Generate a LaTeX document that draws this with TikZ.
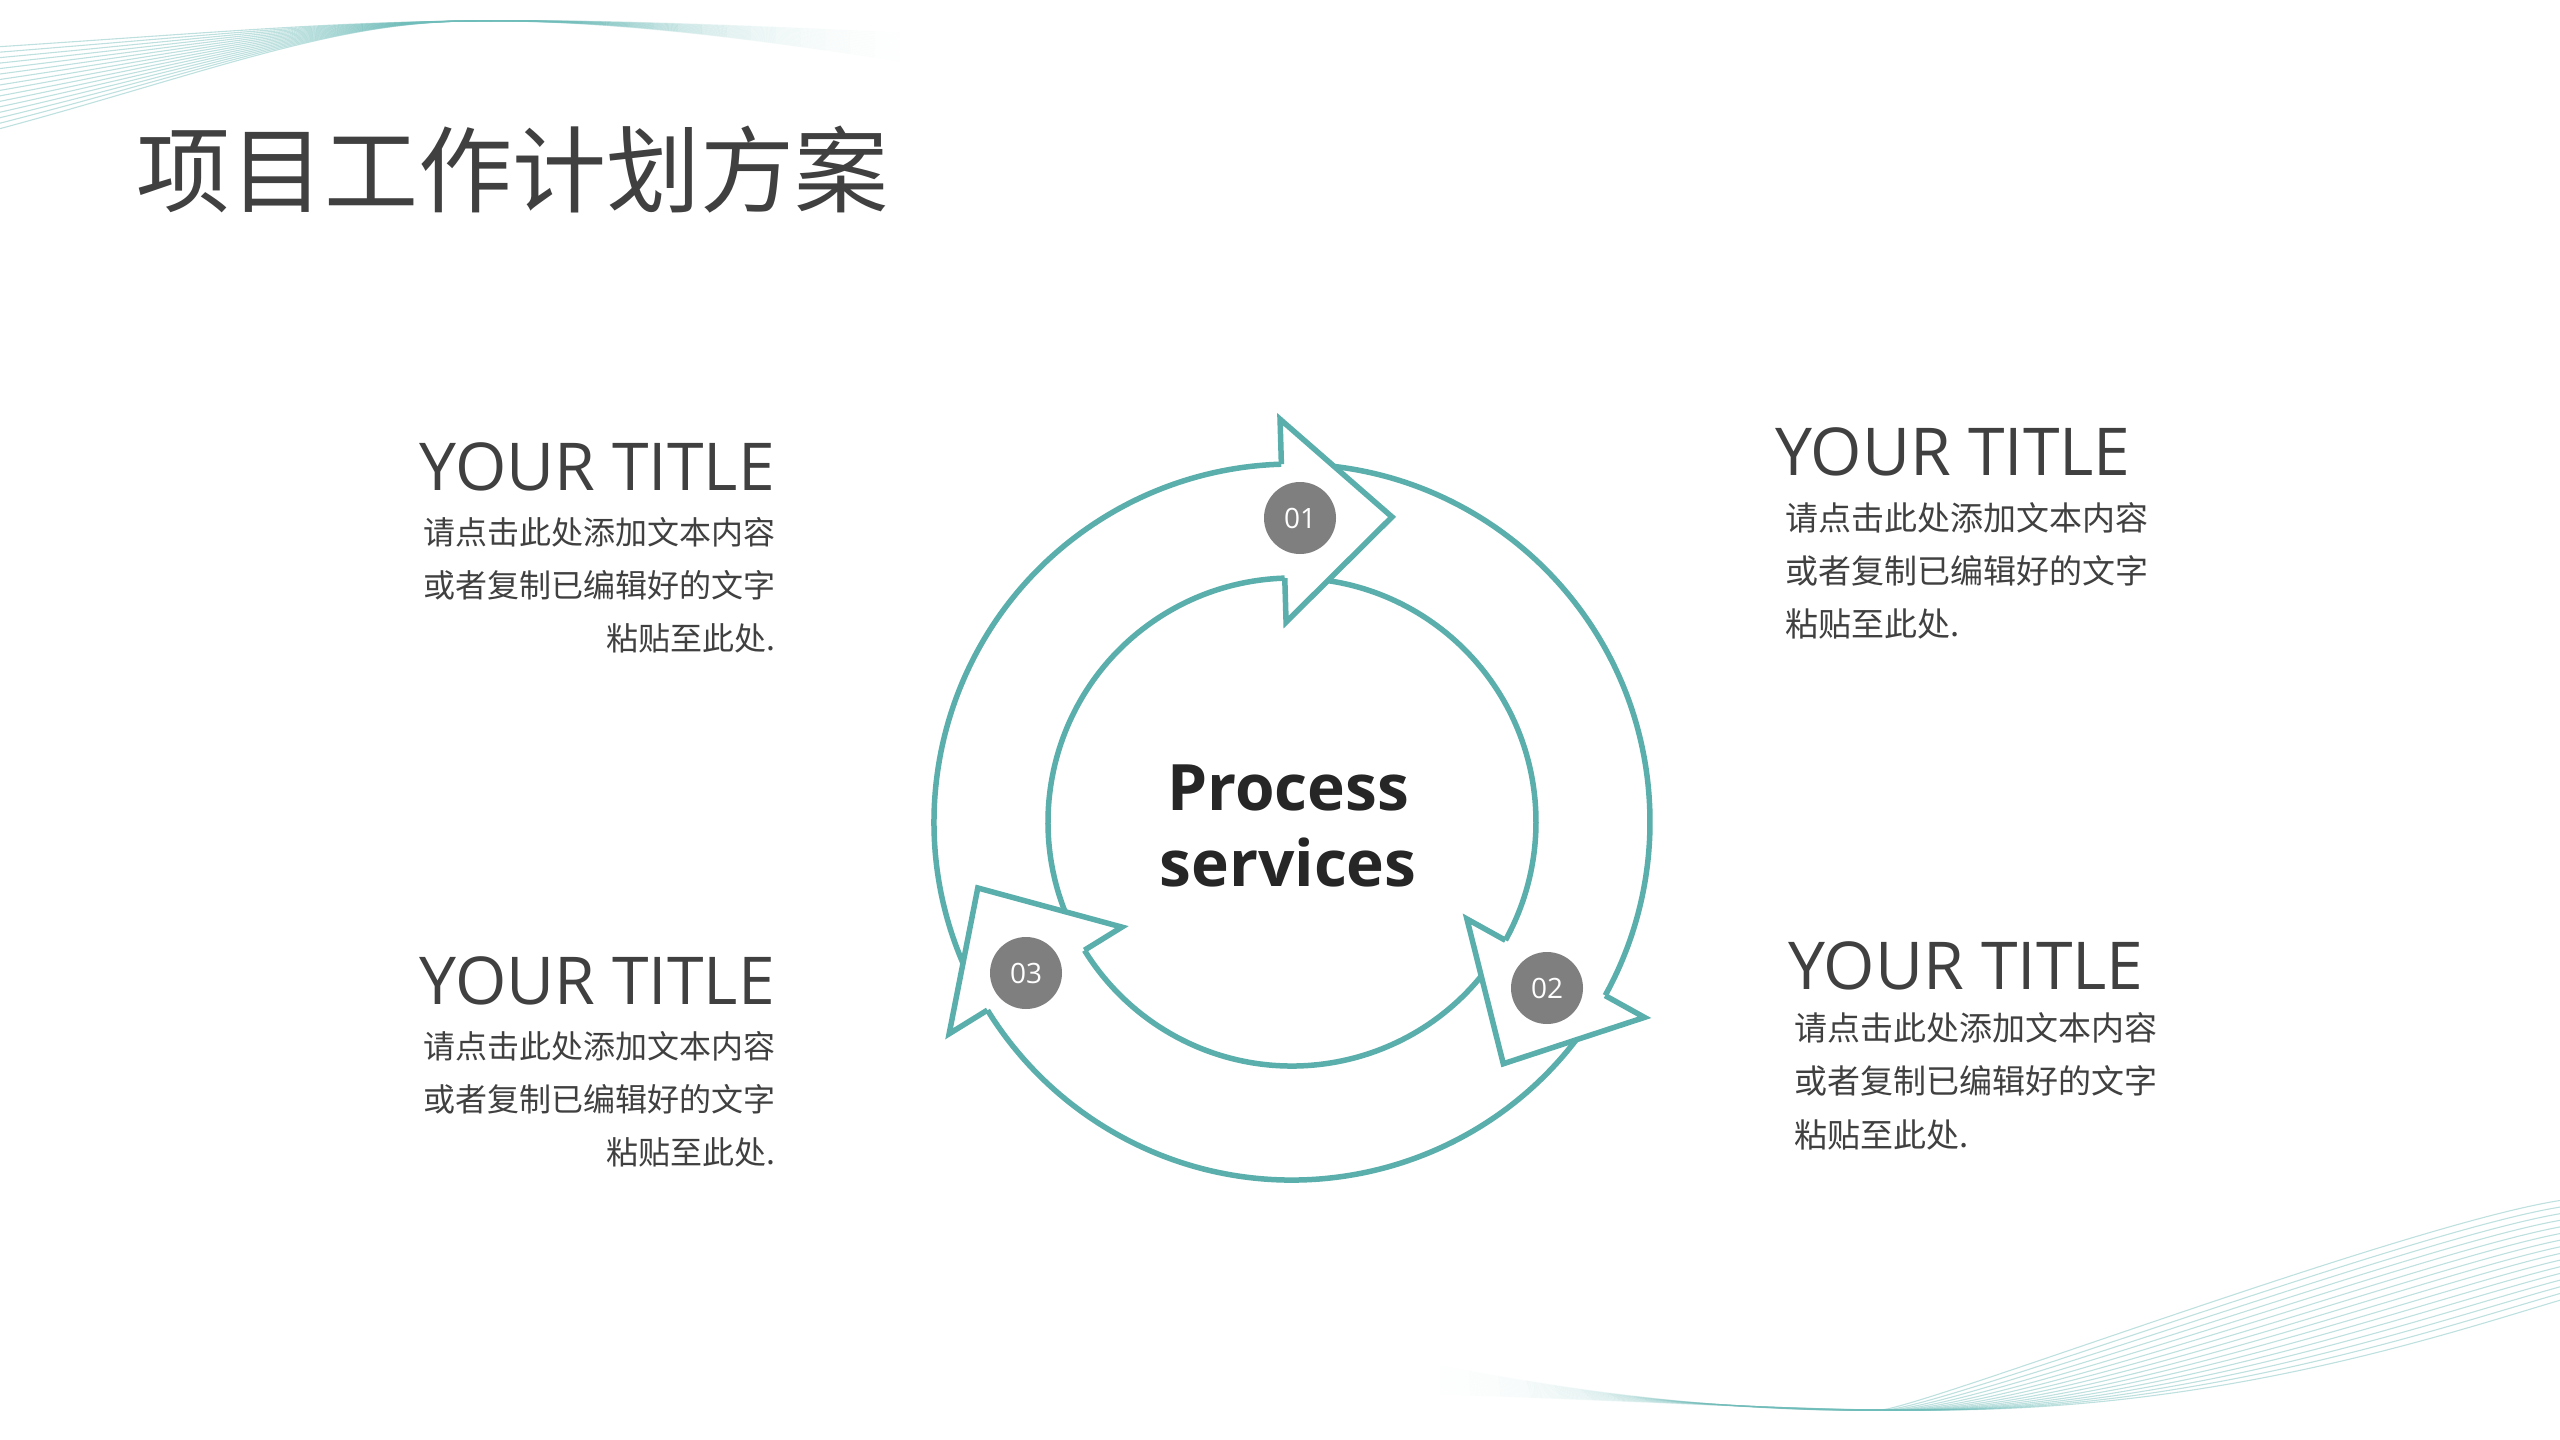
\documentclass[tikz,border=0pt]{standalone}
\usepackage{fontspec}
\setmainfont{Open Sans}
\newfontfamily\cjk{Noto Sans CJK SC}
\usetikzlibrary{calc}
\definecolor{tealc}{HTML}{5AAFAC}
\definecolor{wavec}{HTML}{6FBDBA}
\definecolor{numgray}{HTML}{7F7F7F}
\definecolor{txtc}{HTML}{404040}
\definecolor{darkc}{HTML}{262626}
% fading cubic curve: x0 y0 x1 y1 x2 y2 x3 y3 (screen y, downwards), opacity from 0.45 to 0
\newcommand\fadecurve[8]{%
  \foreach \k in {1,...,18} {
    \pgfmathsetmacro\sa{(\k-1)/18}
    \pgfmathsetmacro\sb{\k/18}
    \pgfmathsetmacro\xa{(1-\sa)^3*#1+3*(1-\sa)^2*\sa*#3+3*(1-\sa)*\sa^2*#5+\sa^3*#7}
    \pgfmathsetmacro\ya{(1-\sa)^3*#2+3*(1-\sa)^2*\sa*#4+3*(1-\sa)*\sa^2*#6+\sa^3*#8}
    \pgfmathsetmacro\xb{(1-\sb)^3*#1+3*(1-\sb)^2*\sb*#3+3*(1-\sb)*\sb^2*#5+\sb^3*#7}
    \pgfmathsetmacro\yb{(1-\sb)^3*#2+3*(1-\sb)^2*\sb*#4+3*(1-\sb)*\sb^2*#6+\sb^3*#8}
    \pgfmathsetmacro\op{0.45*(1-\sa)*(1-0.5*\sa)}
    \draw[wfade, opacity=\op] (\xa,-\ya) -- (\xb,-\yb);
  }%
}
\begin{document}
\begin{tikzpicture}[x=1pt,y=1pt,
  ringarc/.style={draw=tealc, line width=5.5pt},
  numc/.style={circle, fill=numgray, minimum size=72pt, inner sep=0pt, text=white, font=\fontsize{28}{30}\selectfont},
  ttl/.style={inner sep=0pt, text=txtc, font=\fontsize{66}{70}\selectfont},
  bodyL/.style={inner sep=0pt, text=txtc, font=\cjk\fontsize{32}{36}\selectfont},
  bodyR/.style={inner sep=0pt, text=txtc, font=\cjk\fontsize{33}{36}\selectfont},
  proc/.style={inner sep=0pt, text=darkc, font=\bfseries\fontsize{64}{70}\selectfont},
  wline/.style={draw=wavec, line width=1.1pt, opacity=0.45},
  wfade/.style={draw=wavec, line width=1.1pt},
]
\fill[white] (0,0) rectangle (2560,-1440);
\useasboundingbox (0,0) rectangle (2560,-1440);

% decorative waves
\begin{scope}
\clip (0,0) rectangle (2560,-1440);
\foreach \i in {0,...,15} {
  \pgfmathsetmacro\t{\i/15}
  % top left
  \pgfmathsetmacro\yA{47+83*\t}
  \pgfmathsetmacro\yC{0.5*\yA+10}
  \pgfmathsetmacro\yE{33+28*\t}
  \pgfmathsetmacro\yF{26+12*\t}
  \draw[wline] (-5,-\yA) .. controls (200,-\yC) and (330,-22) .. (470,-21);
  \fadecurve{470}{21}{600}{19}{750}{\yF}{900}{\yE}
  % bottom right
  \pgfmathsetmacro\ry{1198+95*\t}
  \pgfmathsetmacro\cxa{2470+10*\t}
  \pgfmathsetmacro\cya{1200+122*\t}
  \pgfmathsetmacro\cxb{1921+324*\t}
  \pgfmathsetmacro\qx{1880+60*\t}
  \pgfmathsetmacro\qc{1760+60*\t}
  \pgfmathsetmacro\ly{1366+28*\t}
  \draw[wline] (2585,-\ry) .. controls (\cxa,-\cya) and (\cxb,-1409) .. (\qx,-1410);
  \fadecurve{\qx}{1410}{\qc}{1412}{1620}{1400}{1440}{\ly}
}
\end{scope}

% circular arrows
\begin{scope}[shift={(1292,-822)}]
  \foreach \a/\b in {211.7/91.7, 91.7/-29, -29/-148.3} {
    \draw[ringarc] (\a:358) arc[start angle=\a, end angle=\b, radius=358];
    \draw[ringarc] (\a:244) arc[start angle=\a, end angle=\b, radius=244];
  }
  \foreach \h in {91.7,-29,-148.3} {
    \coordinate (tip) at ($(\h:302)+(\h-90:109)$);
    \fill[white] (\h:403) -- (tip) -- (\h:200) -- cycle;
    \draw[ringarc, line join=miter] (\h:358) -- (\h:403) -- (tip) -- (\h:200) -- (\h:244);
  }
\end{scope}

\node[numc] (n1) at (1300,-518) {01};
\node[numc] (n2) at (1547,-988) {02};
\node[numc] (n3) at (1026,-973) {03};

\node[proc, anchor=base] (p1) at (1288,-810) {Process};
\node[proc, anchor=base] (p2) at (1288,-886) {services};

\node[anchor=base west, inner sep=0pt, text=txtc, font=\cjk\fontsize{94}{100}\selectfont] (title) at (136,-205) {项目工作计划方案};

% top-left
\node[ttl, anchor=base east] (t1) at (775,-490) {YOUR TITLE};
\node[bodyL, anchor=base east] (b1a) at (776,-544) {请点击此处添加文本内容};
\node[bodyL, anchor=base east] (b1b) at (776,-597) {或者复制已编辑好的文字};
\node[bodyL, anchor=base east] (b1c) at (776,-650) {粘贴至此处.};
% bottom-left
\node[ttl, anchor=base east] (t3) at (775,-1004) {YOUR TITLE};
\node[bodyL, anchor=base east] (b3a) at (776,-1058) {请点击此处添加文本内容};
\node[bodyL, anchor=base east] (b3b) at (776,-1111) {或者复制已编辑好的文字};
\node[bodyL, anchor=base east] (b3c) at (776,-1164) {粘贴至此处.};
% top-right
\node[ttl, anchor=base west] (t2) at (1775,-475) {YOUR TITLE};
\node[bodyR, anchor=base west] (b2a) at (1785,-530) {请点击此处添加文本内容};
\node[bodyR, anchor=base west] (b2b) at (1785,-583) {或者复制已编辑好的文字};
\node[bodyR, anchor=base west] (b2c) at (1785,-636) {粘贴至此处.};
% bottom-right
\node[ttl, anchor=base west] (t4) at (1788,-989) {YOUR TITLE};
\node[bodyR, anchor=base west] (b4a) at (1794,-1040) {请点击此处添加文本内容};
\node[bodyR, anchor=base west] (b4b) at (1794,-1093) {或者复制已编辑好的文字};
\node[bodyR, anchor=base west] (b4c) at (1794,-1147) {粘贴至此处.};
\end{tikzpicture}
\end{document}
